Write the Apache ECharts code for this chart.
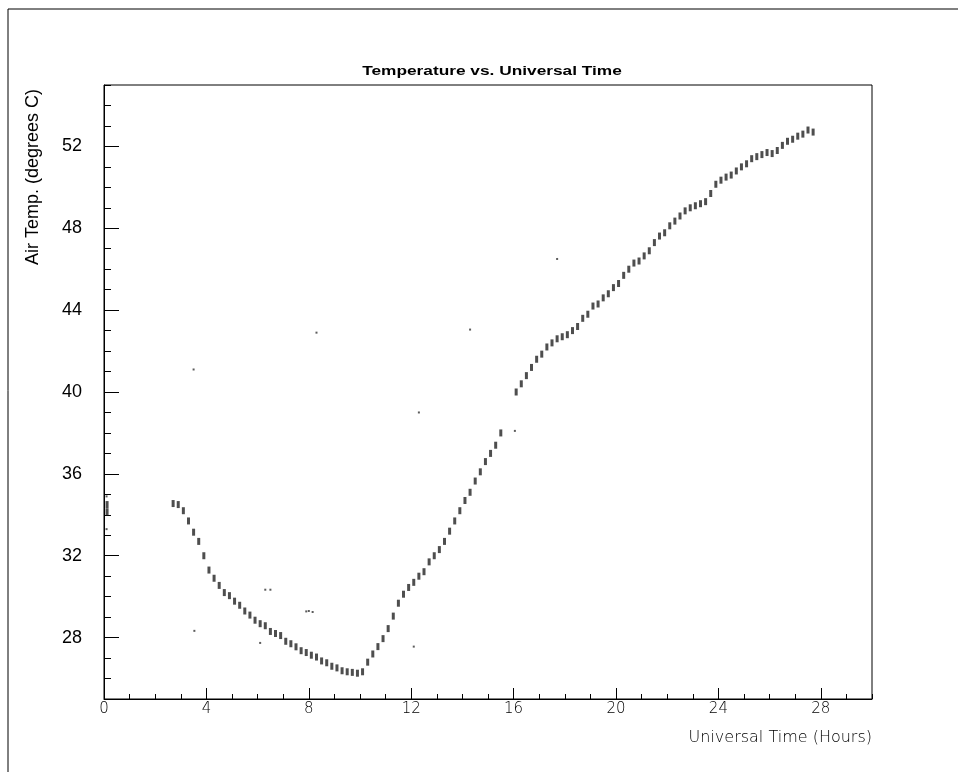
<!DOCTYPE html>
<html>
<head>
<meta charset="utf-8">
<title>Temperature vs. Universal Time</title>
<script src="https://cdn.jsdelivr.net/npm/echarts@6/dist/echarts.min.js"></script>
<style>
  html, body { margin: 0; padding: 0; background: #fff; }
  #chart { width: 958px; height: 772px; }
</style>
</head>
<body>
<div id="chart"></div>
<script>
// 主曲线：时间 (小时) 与气温 (℃)
const mainHours = [
  0.12, 0.12, 2.7, 2.9, 3.1, 3.3, 3.5, 3.7, 3.9, 4.1, 4.3, 4.5, 4.7, 4.9,
  5.1, 5.3, 5.5, 5.7, 5.9, 6.1, 6.3, 6.5, 6.7, 6.9, 7.1, 7.3, 7.5, 7.7, 7.9,
  8.1, 8.3, 8.5, 8.7, 8.9, 9.1, 9.3, 9.5, 9.7, 9.9, 10.1, 10.3, 10.5, 10.7,
  10.9, 11.1, 11.3, 11.5, 11.7, 11.9, 12.1, 12.3, 12.5, 12.7, 12.9, 13.1,
  13.3, 13.5, 13.7, 13.9, 14.1, 14.3, 14.5, 14.7, 14.9, 15.1, 15.3, 15.5,
  16.1, 16.3, 16.5, 16.7, 16.9, 17.1, 17.3, 17.5, 17.7, 17.9, 18.1, 18.3,
  18.5, 18.7, 18.9, 19.1, 19.3, 19.5, 19.7, 19.9, 20.1, 20.3, 20.5, 20.7,
  20.9, 21.1, 21.3, 21.5, 21.7, 21.9, 22.1, 22.3, 22.5, 22.7, 22.9, 23.1,
  23.3, 23.5, 23.7, 23.9, 24.1, 24.3, 24.5, 24.7, 24.9, 25.1, 25.3, 25.5,
  25.7, 25.9, 26.1, 26.3, 26.5, 26.7, 26.9, 27.1, 27.3, 27.5, 27.7
]
const mainTemps = [
  34.5, 34.15, 34.55, 34.5, 34.2, 33.7, 33.15, 32.7, 32.0, 31.3, 30.9, 30.55, 30.2, 30.05,
  29.78, 29.58, 29.3, 29.1, 28.85, 28.68, 28.58, 28.3, 28.2, 28.1, 27.82, 27.7, 27.55, 27.36, 27.27,
  27.14, 27.05, 26.86, 26.77, 26.6, 26.52, 26.38, 26.33, 26.3, 26.26, 26.33, 26.8, 27.2, 27.56,
  27.95, 28.44, 29.05, 29.68, 30.12, 30.45, 30.7, 31.0, 31.22, 31.7, 32.0, 32.3,
  32.7, 33.2, 33.7, 34.2, 34.7, 35.1, 35.65, 36.1, 36.6, 37.0, 37.4, 38.0,
  40.0, 40.4, 40.8, 41.2, 41.6, 41.85, 42.2, 42.4, 42.6, 42.7, 42.8, 43.0,
  43.2, 43.6, 43.8, 44.2, 44.3, 44.6, 44.8, 45.1, 45.3, 45.7, 46.0, 46.3,
  46.4, 46.65, 46.9, 47.3, 47.62, 47.78, 48.12, 48.35, 48.6, 48.85, 49.0, 49.1,
  49.2, 49.3, 49.7, 50.15, 50.35, 50.5, 50.6, 50.8, 51.0, 51.15, 51.4, 51.5,
  51.6, 51.7, 51.65, 51.8, 52.05, 52.25, 52.35, 52.5, 52.6, 52.8, 52.7
]

// 零散的异常点
const strayHours = [0.1, 0.1, 3.5, 3.53, 6.1, 6.3, 6.5, 7.9, 8.0, 8.15, 8.3, 12.1, 12.3, 14.3, 16.05, 17.7]
const strayTemps = [34.9, 33.3, 41.1, 28.33, 27.74, 30.34, 30.34, 29.28, 29.3, 29.25, 42.9, 27.56, 39.0, 43.05, 38.1, 46.5]

// 刻度标签
const xTickLabels = [0, 4, 8, 12, 16, 20, 24, 28]
const yTickLabels = [28, 32, 36, 40, 44, 48, 52]

const mainData = mainHours.map((h, i) => [h, mainTemps[i]])
const strayData = strayHours.map((h, i) => [h, strayTemps[i]])

const chart = echarts.init(document.getElementById('chart'), null, { renderer: 'canvas' })

const option = {
  animation: false,
  backgroundColor: '#fff',
  grid: {
    left: 104,
    right: 86,
    top: 85,
    bottom: 73,
    show: true,
    borderColor: '#000',
    borderWidth: 1,
    backgroundColor: 'transparent'
  },
  xAxis: [
    {
      type: 'value',
      min: 0,
      max: 30,
      position: 'bottom',
      axisLine: { show: true, lineStyle: { color: '#000', width: 1 } },
      axisTick: {
        show: true,
        inside: true,
        length: 11,
        customValues: xTickLabels,
        lineStyle: { color: '#000' }
      },
      axisLabel: {
        customValues: xTickLabels,
        margin: 3,
        fontFamily: 'DejaVu Sans',
        fontWeight: 200,
        fontSize: 15,
        color: '#000'
      },
      splitLine: { show: false }
    },
    {
      // 次刻度（每小时）
      type: 'value',
      min: 0,
      max: 30,
      interval: 1,
      position: 'bottom',
      offset: 0,
      axisLine: { show: false },
      axisTick: { show: true, inside: true, length: 5, lineStyle: { color: '#000' } },
      axisLabel: { show: false },
      splitLine: { show: false }
    }
  ],
  yAxis: [
    {
      type: 'value',
      min: 25,
      max: 55,
      position: 'left',
      axisLine: { show: true, lineStyle: { color: '#000', width: 1 } },
      axisTick: {
        show: true,
        inside: true,
        length: 15,
        customValues: yTickLabels,
        lineStyle: { color: '#000' }
      },
      axisLabel: {
        customValues: yTickLabels,
        margin: 22,
        fontFamily: 'Liberation Sans',
        fontSize: 18,
        color: '#000'
      },
      splitLine: { show: false }
    },
    {
      // 次刻度（每 1 ℃）
      type: 'value',
      min: 25,
      max: 55,
      interval: 1,
      position: 'left',
      offset: 0,
      axisLine: { show: false },
      axisTick: { show: true, inside: true, length: 7, lineStyle: { color: '#000' } },
      axisLabel: { show: false },
      splitLine: { show: false }
    }
  ],
  graphic: [
    {
      // 外框
      type: 'polyline',
      shape: { points: [[8, 772], [8, 9], [958, 9]] },
      style: { stroke: '#000', lineWidth: 1, fill: null },
      silent: true
    },
    {
      // 标题（横向拉宽）
      type: 'text',
      x: 492,
      y: 72,
      scaleX: 1.44,
      style: {
        text: 'Temperature vs. Universal Time',
        font: 'bold 12px "Liberation Sans"',
        fill: '#000',
        textAlign: 'center',
        textVerticalAlign: 'middle'
      }
    },
    {
      type: 'text',
      x: 33,
      y: 89,
      rotation: Math.PI / 2,
      style: {
        text: 'Air Temp. (degrees C)',
        font: '18px "Liberation Sans"',
        fill: '#000',
        textAlign: 'right',
        textVerticalAlign: 'middle'
      }
    },
    {
      type: 'text',
      x: 872,
      y: 738,
      style: {
        text: 'Universal Time (Hours)',
        font: '200 16px "DejaVu Sans"',
        fill: '#000',
        textAlign: 'right',
        textVerticalAlign: 'middle'
      }
    }
  ],
  series: [
    {
      name: 'Air Temp.',
      type: 'scatter',
      xAxisIndex: 0,
      yAxisIndex: 0,
      symbol: 'rect',
      symbolSize: [3, 7],
      itemStyle: { color: '#222', opacity: 0.8 },
      data: mainData
    },
    {
      name: 'Stray',
      type: 'scatter',
      xAxisIndex: 0,
      yAxisIndex: 0,
      symbol: 'rect',
      symbolSize: [2, 2],
      itemStyle: { color: '#333' },
      data: strayData
    }
  ]
}

chart.setOption(option)
window.addEventListener('resize', function () {
  chart.resize()
})
</script>
</body>
</html>
